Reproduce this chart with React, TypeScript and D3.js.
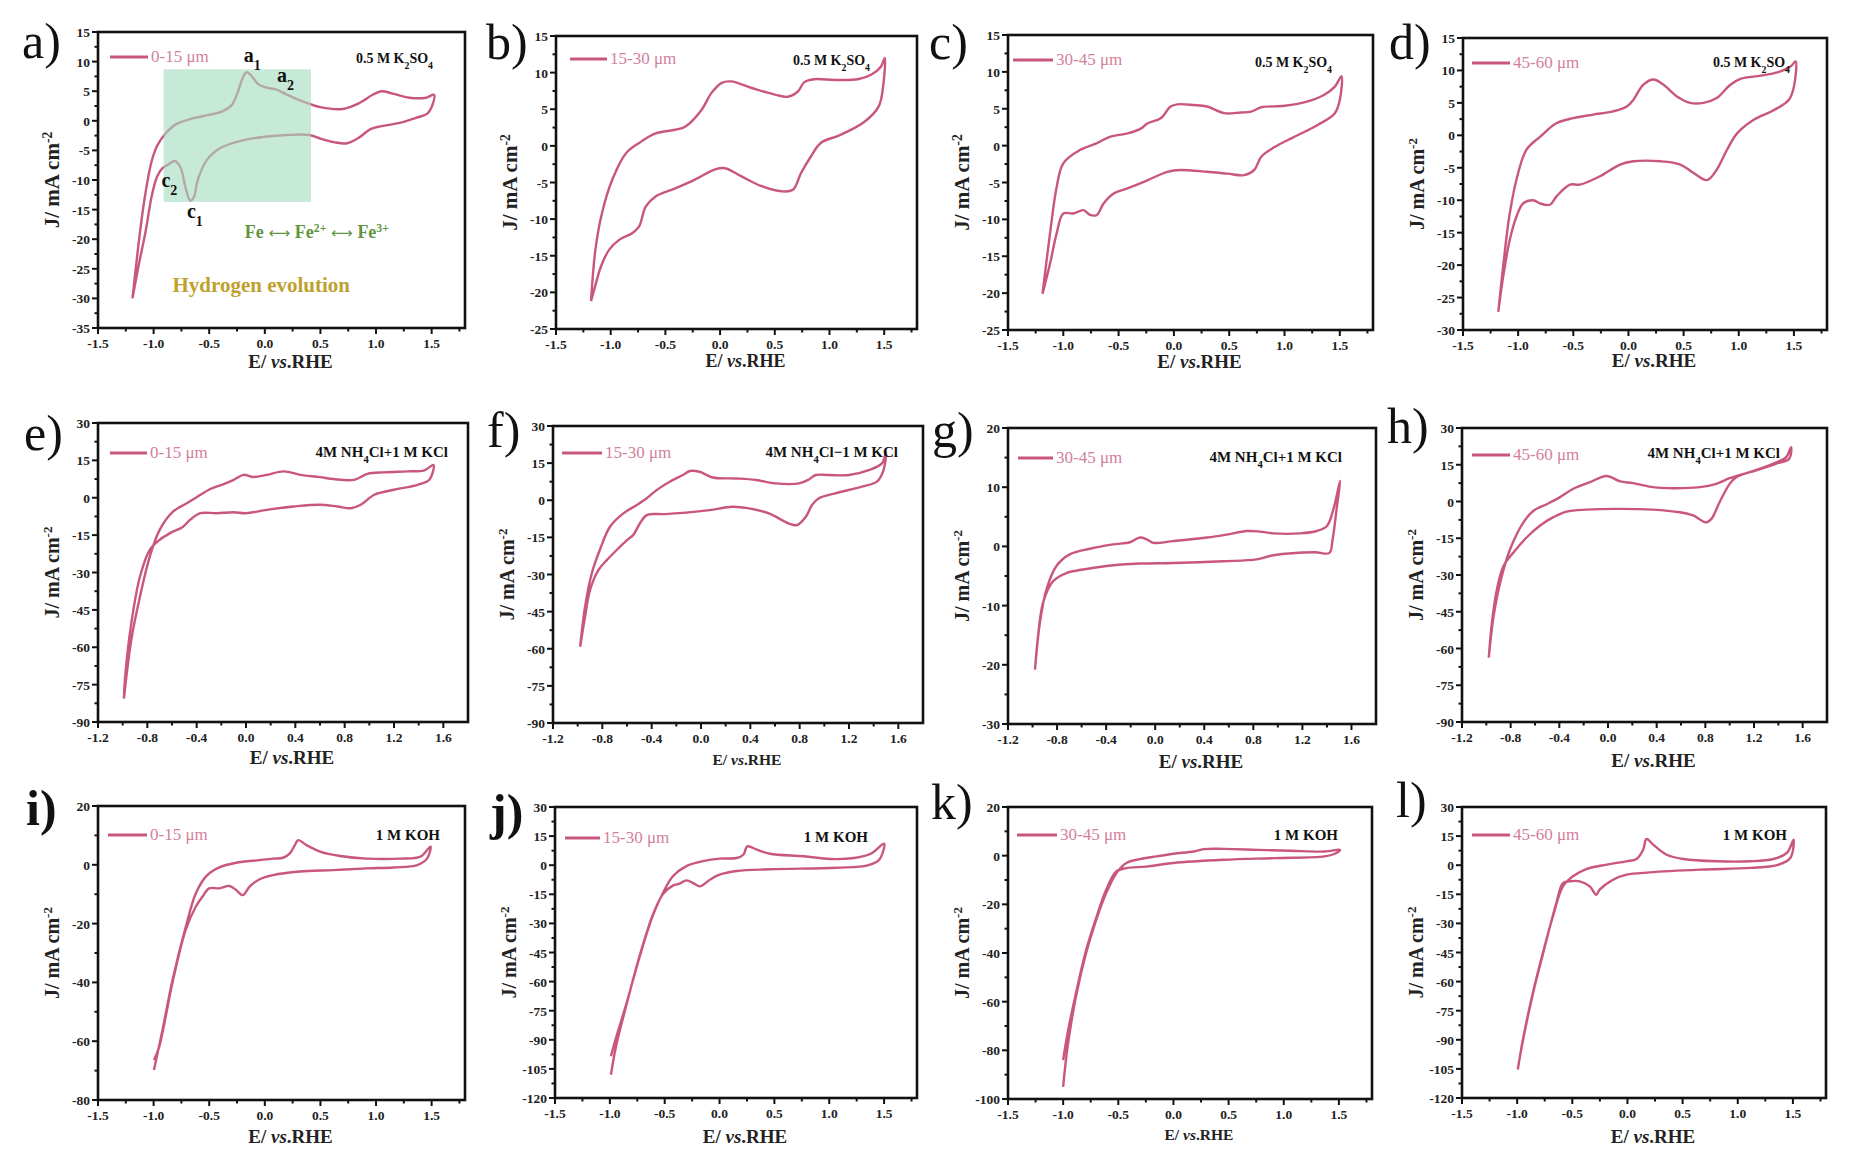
import React from "react";
import * as d3 from "d3";

type Pt = [number, number];

// ---------- tick values ----------
const xTicksWide = [-1.5, -1.0, -0.5, 0.0, 0.5, 1.0, 1.5];
const xTicksNarrow = [-1.2, -0.8, -0.4, 0.0, 0.4, 0.8, 1.2, 1.6];
const yTicksA = [15, 10, 5, 0, -5, -10, -15, -20, -25, -30, -35];
const yTicksBC = [15, 10, 5, 0, -5, -10, -15, -20, -25];
const yTicksD = [15, 10, 5, 0, -5, -10, -15, -20, -25, -30];
const yTicksChloride = [30, 15, 0, -15, -30, -45, -60, -75, -90];
const yTicksG = [20, 10, 0, -10, -20, -30];
const yTicksI = [20, 0, -20, -40, -60, -80];
const yTicksJL = [30, 15, 0, -15, -30, -45, -60, -75, -90, -105, -120];
const yTicksK = [20, 0, -20, -40, -60, -80, -100];

// ---------- labels ----------
const depthLabels = ["0-15 μm", "15-30 μm", "30-45 μm", "45-60 μm"];
const electrolytes = ["0.5 M K2SO4", "4M NH4Cl+1 M KCl", "4M NH4Cl−1 M KCl", "1 M KOH"];
const panelLetters = ["a)", "b)", "c)", "d)", "e)", "f)", "g)", "h)", "i)", "j)", "k)", "l)"];

// ---------- CV loops: forward (anodic) sweep, then reverse (cathodic) sweep ----------
// 0.5 M K2SO4
const aAnodic: Pt[] = [[-1.19,-30],[-1.13,-20],[-1.08,-13],[-1.02,-7],[-0.97,-4.3],[-0.9,-2.3],[-0.8,-0.6],[-0.65,0.4],[-0.5,1.0],[-0.38,1.6],[-0.3,2.6],[-0.25,4.5],[-0.2,7.2],[-0.165,8.2],[-0.12,7.6],[-0.06,6.2],[0.02,5.6],[0.1,5.3],[0.2,4.4],[0.35,3.2],[0.5,2.3],[0.7,2.0],[0.85,3.0],[0.97,4.4],[1.05,5.0],[1.15,4.6],[1.3,3.9],[1.45,3.9],[1.52,4.4]];
const aCathodic: Pt[] = [[1.51,2.8],[1.46,1.2],[1.36,0.5],[1.2,-0.4],[1.05,-0.9],[0.95,-1.4],[0.85,-2.8],[0.74,-3.8],[0.62,-3.6],[0.5,-3.0],[0.4,-2.4],[0.2,-2.4],[0.0,-2.7],[-0.2,-3.3],[-0.4,-4.6],[-0.52,-6.6],[-0.6,-9.8],[-0.64,-13.0],[-0.67,-13.5],[-0.71,-11.5],[-0.76,-7.8],[-0.81,-6.8],[-0.87,-7.4],[-0.92,-8.0],[-0.97,-9.5],[-1.02,-13],[-1.07,-18.5],[-1.13,-24],[-1.19,-30]];
const bAnodic: Pt[] = [[-1.18,-21.2],[-1.14,-14.2],[-1.08,-9.2],[-0.985,-4.6],[-0.86,-1.0],[-0.74,0.4],[-0.59,1.7],[-0.41,2.2],[-0.32,2.6],[-0.17,4.9],[-0.08,7.2],[0.015,8.6],[0.1,8.8],[0.29,7.9],[0.5,7.0],[0.62,6.7],[0.71,7.4],[0.77,8.7],[0.86,9.1],[1.05,9.0],[1.26,9.1],[1.38,9.7],[1.47,10.8],[1.505,12]];
const bCathodic: Pt[] = [[1.49,8.1],[1.45,5.4],[1.32,3.3],[1.1,1.5],[0.92,0.4],[0.83,-1.45],[0.74,-3.7],[0.666,-6.0],[0.56,-6.2],[0.38,-5.5],[0.2,-4.2],[0.045,-3.05],[-0.045,-3.2],[-0.23,-4.6],[-0.41,-5.8],[-0.59,-6.9],[-0.68,-8.3],[-0.74,-11.0],[-0.8,-11.9],[-0.92,-12.8],[-1.015,-14.2],[-1.09,-16.5],[-1.15,-19.6],[-1.18,-21.2]];
const cAnodic: Pt[] = [[-1.188,-20.1],[-1.12,-11.9],[-1.06,-5.6],[-1.0,-2.4],[-0.85,-0.6],[-0.7,0.3],[-0.58,1.2],[-0.42,1.65],[-0.3,2.3],[-0.24,3.0],[-0.12,3.7],[-0.03,5.3],[0.03,5.6],[0.18,5.5],[0.3,5.3],[0.455,4.4],[0.606,4.5],[0.697,4.6],[0.79,5.2],[1.0,5.4],[1.21,6.0],[1.36,6.9],[1.455,8.0],[1.515,9.4]];
const cCathodic: Pt[] = [[1.5,6.2],[1.455,4.4],[1.3,2.8],[1.09,1.2],[0.91,-0.2],[0.79,-1.5],[0.727,-3.3],[0.636,-4.0],[0.485,-3.8],[0.3,-3.55],[0.06,-3.3],[-0.06,-3.55],[-0.24,-4.7],[-0.42,-5.8],[-0.545,-6.5],[-0.636,-7.85],[-0.697,-9.4],[-0.758,-9.4],[-0.818,-8.75],[-0.909,-9.2],[-1.0,-9.2],[-1.06,-11.9],[-1.12,-16],[-1.188,-20.1]];
const dAnodic: Pt[] = [[-1.18,-27.2],[-1.136,-20.2],[-1.076,-12],[-1.0,-5.8],[-0.924,-2.2],[-0.8,-0.2],[-0.65,1.9],[-0.5,2.65],[-0.32,3.2],[-0.14,3.7],[-0.015,4.45],[0.045,5.5],[0.136,7.8],[0.227,8.6],[0.318,7.8],[0.44,6.0],[0.56,5.0],[0.68,5.0],[0.8,5.75],[0.924,7.8],[1.015,8.7],[1.2,9.2],[1.35,9.7],[1.47,10.6],[1.515,11.4]];
const dCathodic: Pt[] = [[1.5,7.5],[1.455,5.5],[1.32,3.9],[1.136,2.4],[0.985,0.3],[0.894,-2.2],[0.8,-5.3],[0.712,-6.9],[0.59,-5.8],[0.47,-4.5],[0.29,-4.0],[0.045,-4.0],[-0.076,-4.5],[-0.258,-6.3],[-0.44,-7.6],[-0.53,-7.6],[-0.652,-9.4],[-0.712,-10.7],[-0.803,-10.5],[-0.864,-10.0],[-0.955,-10.5],[-1.015,-12.5],[-1.076,-16.1],[-1.136,-21.8],[-1.18,-27.2]];

// 4M NH4Cl + 1 M KCl
const eAnodic: Pt[] = [[-0.99,-80.6],[-0.93,-57],[-0.86,-39.7],[-0.78,-23.6],[-0.7,-12.9],[-0.59,-5.5],[-0.48,-2.2],[-0.4,0.2],[-0.29,3.5],[-0.18,5.5],[-0.1,7.2],[-0.02,9.2],[0.06,8.3],[0.17,9.2],[0.306,10.6],[0.44,9.2],[0.6,8.3],[0.71,7.5],[0.876,7.2],[0.985,9.6],[1.12,10.2],[1.31,10.6],[1.446,11.0],[1.52,13.2]];
const eCathodic: Pt[] = [[1.486,7.2],[1.39,5.2],[1.2,3.2],[1.04,1.2],[0.93,-2.8],[0.85,-4.2],[0.74,-3.5],[0.6,-2.8],[0.39,-3.5],[0.17,-4.85],[0.0,-6.2],[-0.1,-5.8],[-0.24,-6.2],[-0.37,-6.2],[-0.454,-8.9],[-0.51,-11.6],[-0.616,-14.2],[-0.7,-16.9],[-0.78,-20.9],[-0.86,-31.7],[-0.93,-50.4],[-0.98,-71.9],[-0.99,-80.6]];
const fAnodic: Pt[] = [[-0.98,-59.2],[-0.94,-43],[-0.886,-29.6],[-0.82,-20],[-0.738,-10.7],[-0.63,-5.3],[-0.52,-1.9],[-0.44,0.8],[-0.36,4.1],[-0.254,7.5],[-0.146,10.2],[-0.09,11.8],[-0.012,11.5],[0.096,9.2],[0.284,8.8],[0.445,8.2],[0.606,6.8],[0.795,6.8],[0.875,8.4],[0.93,10.2],[1.036,10.2],[1.2,10.2],[1.36,12.2],[1.467,14.9],[1.5,19.6]];
const fCathodic: Pt[] = [[1.48,12.2],[1.426,7.5],[1.305,5.5],[1.09,2.8],[0.956,0.8],[0.9,-1.9],[0.85,-6.7],[0.78,-10],[0.714,-9.4],[0.55,-5.3],[0.39,-3.3],[0.257,-2.6],[0.07,-4.0],[-0.12,-5.0],[-0.3,-5.6],[-0.44,-6.0],[-0.496,-9.4],[-0.55,-14.1],[-0.6,-16.1],[-0.684,-20.1],[-0.764,-24.2],[-0.832,-28.2],[-0.9,-36.3],[-0.94,-47.1],[-0.98,-59.2]];
const gAnodic: Pt[] = [[-0.98,-20.8],[-0.94,-12.9],[-0.887,-7.3],[-0.805,-3.3],[-0.697,-1.35],[-0.533,-0.4],[-0.343,0.34],[-0.207,0.7],[-0.125,1.5],[-0.07,1.2],[-0.016,0.6],[0.147,0.9],[0.42,1.5],[0.582,2.0],[0.746,2.6],[0.854,2.5],[0.963,2.2],[1.18,2.2],[1.317,2.6],[1.4,3.45],[1.453,6.3],[1.508,11.1]];
const gCathodic: Pt[] = [[1.48,6.5],[1.445,1.0],[1.42,-1.1],[1.3,-1.0],[0.963,-1.5],[0.827,-2.2],[0.555,-2.5],[0.147,-2.8],[-0.125,-2.9],[-0.397,-3.3],[-0.588,-3.9],[-0.724,-4.5],[-0.833,-5.9],[-0.914,-9.5],[-0.955,-15.2],[-0.98,-20.8]];
const hAnodic: Pt[] = [[-0.98,-63.7],[-0.94,-46.7],[-0.886,-33],[-0.804,-19.4],[-0.695,-8.5],[-0.61,-3.7],[-0.5,-1.0],[-0.394,1.8],[-0.285,5.2],[-0.148,7.9],[-0.012,10.4],[0.1,8.2],[0.207,7.5],[0.37,5.85],[0.535,5.4],[0.754,5.85],[0.89,7.2],[1.0,9.5],[1.163,12.0],[1.355,15.4],[1.464,18.1],[1.505,22.2]];
const hCathodic: Pt[] = [[1.49,17.5],[1.38,15.4],[1.218,12.7],[1.054,9.9],[1.0,7.2],[0.917,-0.3],[0.85,-7.1],[0.808,-8.5],[0.7,-5.7],[0.59,-4.4],[0.37,-3.3],[0.07,-3.0],[-0.175,-3.3],[-0.34,-4.1],[-0.449,-6.4],[-0.558,-9.8],[-0.667,-14.6],[-0.777,-20.8],[-0.858,-26.2],[-0.913,-35.8],[-0.954,-49.4],[-0.98,-63.7]];

// 1 M KOH
const iAnodic: Pt[] = [[-0.997,-69.8],[-0.92,-56.2],[-0.83,-39.2],[-0.71,-21],[-0.62,-9.7],[-0.53,-4.0],[-0.41,-0.9],[-0.258,0.7],[-0.047,1.6],[0.074,2.1],[0.164,2.4],[0.225,3.9],[0.27,6.7],[0.3,8.4],[0.375,6.7],[0.496,4.5],[0.677,3.0],[0.918,2.1],[1.22,2.1],[1.4,2.8],[1.49,6.2]];
const iCathodic: Pt[] = [[1.46,2.2],[1.37,-0.1],[1.16,-0.9],[0.918,-1.2],[0.616,-1.8],[0.315,-2.3],[0.074,-3.5],[-0.047,-4.9],[-0.137,-7.4],[-0.198,-10.3],[-0.258,-8.6],[-0.318,-7.2],[-0.409,-8.0],[-0.5,-8.0],[-0.56,-10.8],[-0.62,-14.2],[-0.71,-22],[-0.83,-40],[-0.95,-61.9],[-0.997,-66.4]];
const jAnodic: Pt[] = [[-0.99,-108],[-0.944,-93.4],[-0.852,-72.7],[-0.73,-47],[-0.608,-25.5],[-0.516,-14.3],[-0.425,-5.7],[-0.302,-0.5],[-0.15,2.1],[0.0,3.4],[0.156,3.7],[0.217,5.4],[0.254,9.7],[0.34,8.0],[0.46,5.9],[0.767,4.6],[1.01,3.2],[1.225,3.7],[1.378,5.9],[1.5,11.1]];
const jCathodic: Pt[] = [[1.455,2.8],[1.35,-0.1],[1.07,-1.3],[0.46,-2.1],[0.156,-3.0],[0.0,-4.9],[-0.088,-7.5],[-0.18,-10.9],[-0.24,-9.2],[-0.302,-7.8],[-0.363,-9.5],[-0.425,-10.5],[-0.516,-14.8],[-0.608,-26],[-0.73,-47.5],[-0.852,-72],[-0.944,-89],[-0.99,-98.5]];
const kAnodic: Pt[] = [[-1.0,-95],[-0.96,-78.6],[-0.884,-58],[-0.793,-40.2],[-0.7,-26.4],[-0.61,-15.4],[-0.518,-7.2],[-0.427,-3.0],[-0.305,-1.4],[-0.152,-0.3],[0.0,0.8],[0.183,1.7],[0.274,2.7],[0.457,2.8],[0.762,2.4],[1.067,2.0],[1.37,1.7],[1.51,2.4]];
const kCathodic: Pt[] = [[1.463,0.8],[1.37,-0.3],[0.915,-1.0],[0.457,-1.7],[0.0,-3.0],[-0.244,-4.5],[-0.427,-5.1],[-0.518,-6.5],[-0.61,-14],[-0.7,-25.5],[-0.793,-39],[-0.884,-56.5],[-0.96,-73],[-1.0,-84]];
const lAnodic: Pt[] = [[-0.994,-105.4],[-0.948,-90],[-0.858,-65.9],[-0.767,-45.3],[-0.676,-26.4],[-0.585,-10.9],[-0.494,-5.7],[-0.373,-2.0],[-0.19,0.3],[-0.009,2.0],[0.082,3.2],[0.142,8.0],[0.173,13.5],[0.233,10.6],[0.355,5.4],[0.506,3.2],[0.81,2.0],[1.112,2.0],[1.324,3.2],[1.445,6.3],[1.506,13.2]];
const lCathodic: Pt[] = [[1.476,3.7],[1.355,0.0],[1.112,-1.4],[0.658,-2.3],[0.203,-3.7],[-0.009,-4.9],[-0.13,-7.5],[-0.252,-12.6],[-0.282,-15.2],[-0.342,-10.9],[-0.433,-8.3],[-0.524,-8.3],[-0.585,-9.2],[-0.645,-19.5],[-0.767,-46],[-0.858,-66.5],[-0.948,-90.5],[-0.994,-105]];

// Fe redox window highlighted in panel a: [E0, E1, J0, J1]
const feWindow = [-0.91, 0.415, -13.7, 8.7];

const LINE = "#c9567f";
const LEGEND_TEXT = "#d27f9c";
const SERIF = "'Liberation Serif', 'Times New Roman', serif";

interface PanelCfg {
  letter: string;
  letterPos: [number, number];
  letterBold?: boolean;
  box: [number, number, number, number];
  xTicks: number[];
  yTicks: number[];
  anodic: Pt[];
  cathodic: Pt[];
  legend: string;
  legendPos: [number, number, number];
  electrolyte: string;
  elecPos: [number, number];
  elecSize: number;
  xTitleDy: number;
  xTitleSize: number;
  yTitleSize: number;
}

const panels: PanelCfg[] = [
  { letter: panelLetters[0], letterPos: [22, 58], box: [98, 32, 465, 328], xTicks: xTicksWide, yTicks: yTicksA, anodic: aAnodic, cathodic: aCathodic, legend: depthLabels[0], legendPos: [12, 50, 25], electrolyte: electrolytes[0], elecPos: [32, 31], elecSize: 14, xTitleDy: 40, xTitleSize: 19, yTitleSize: 21 },
  { letter: panelLetters[1], letterPos: [486, 59], box: [556, 36, 917, 329], xTicks: xTicksWide, yTicks: yTicksBC, anodic: bAnodic, cathodic: bCathodic, legend: depthLabels[1], legendPos: [14, 51, 23], electrolyte: electrolytes[0], elecPos: [47, 29], elecSize: 14, xTitleDy: 38, xTitleSize: 18, yTitleSize: 21 },
  { letter: panelLetters[2], letterPos: [929, 59], box: [1008, 35, 1373, 330], xTicks: xTicksWide, yTicks: yTicksBC, anodic: cAnodic, cathodic: cCathodic, legend: depthLabels[2], legendPos: [5, 45, 25], electrolyte: electrolytes[0], elecPos: [41, 32], elecSize: 14, xTitleDy: 38, xTitleSize: 19, yTitleSize: 21 },
  { letter: panelLetters[3], letterPos: [1389, 59], box: [1463, 38, 1827, 330], xTicks: xTicksWide, yTicks: yTicksD, anodic: dAnodic, cathodic: dCathodic, legend: depthLabels[3], legendPos: [9, 47, 25], electrolyte: electrolytes[0], elecPos: [37, 29], elecSize: 14, xTitleDy: 37, xTitleSize: 19, yTitleSize: 20 },
  { letter: panelLetters[4], letterPos: [24, 450], box: [98, 423, 468, 722], xTicks: xTicksNarrow, yTicks: yTicksChloride, anodic: eAnodic, cathodic: eCathodic, legend: depthLabels[0], legendPos: [12, 49, 30], electrolyte: electrolytes[1], elecPos: [20, 34], elecSize: 15, xTitleDy: 42, xTitleSize: 19, yTitleSize: 20 },
  { letter: panelLetters[5], letterPos: [487, 447], box: [553, 426, 923, 723], xTicks: xTicksNarrow, yTicks: yTicksChloride, anodic: fAnodic, cathodic: fCathodic, legend: depthLabels[1], legendPos: [9, 49, 27], electrolyte: electrolytes[2], elecPos: [25, 31], elecSize: 15, xTitleDy: 42, xTitleSize: 15.5, yTitleSize: 20 },
  { letter: panelLetters[6], letterPos: [932, 447], box: [1008, 428, 1376, 724], xTicks: xTicksNarrow, yTicks: yTicksG, anodic: gAnodic, cathodic: gCathodic, legend: depthLabels[2], legendPos: [10, 45, 30], electrolyte: electrolytes[1], elecPos: [34, 34], elecSize: 15, xTitleDy: 44, xTitleSize: 19, yTitleSize: 20 },
  { letter: panelLetters[7], letterPos: [1387, 443], box: [1462, 428, 1827, 722], xTicks: xTicksNarrow, yTicks: yTicksChloride, anodic: hAnodic, cathodic: hCathodic, legend: depthLabels[3], legendPos: [10, 48, 27], electrolyte: electrolytes[1], elecPos: [47, 30], elecSize: 15, xTitleDy: 45, xTitleSize: 19, yTitleSize: 20 },
  { letter: panelLetters[8], letterPos: [26, 825], letterBold: true, box: [98, 806, 465, 1100], xTicks: xTicksWide, yTicks: yTicksI, anodic: iAnodic, cathodic: iCathodic, legend: depthLabels[0], legendPos: [10, 49, 29], electrolyte: electrolytes[3], elecPos: [25, 34], elecSize: 15, xTitleDy: 43, xTitleSize: 19, yTitleSize: 20 },
  { letter: panelLetters[9], letterPos: [490, 829], letterBold: true, box: [555, 807, 917, 1098], xTicks: xTicksWide, yTicks: yTicksJL, anodic: jAnodic, cathodic: jCathodic, legend: depthLabels[1], legendPos: [10, 45, 31], electrolyte: electrolytes[3], elecPos: [49, 35], elecSize: 15, xTitleDy: 45, xTitleSize: 19, yTitleSize: 20 },
  { letter: panelLetters[10], letterPos: [931, 819], box: [1008, 807, 1372, 1099], xTicks: xTicksWide, yTicks: yTicksK, anodic: kAnodic, cathodic: kCathodic, legend: depthLabels[2], legendPos: [9, 49, 28], electrolyte: electrolytes[3], elecPos: [34, 33], elecSize: 15, xTitleDy: 41, xTitleSize: 15.5, yTitleSize: 20 },
  { letter: panelLetters[11], letterPos: [1396, 817], box: [1462, 807, 1826, 1098], xTicks: xTicksWide, yTicks: yTicksJL, anodic: lAnodic, cathodic: lCathodic, legend: depthLabels[3], legendPos: [10, 48, 28], electrolyte: electrolytes[3], elecPos: [39, 33], elecSize: 15, xTitleDy: 45, xTitleSize: 19, yTitleSize: 20 },
];

// Split a formula such as "K2SO4" so that digits after a capital letter become subscripts
function formula(text: string) {
  const parts: { t: string; sub: boolean }[] = [];
  for (let i = 0; i < text.length; i++) {
    const ch = text[i];
    const sub = /[0-9]/.test(ch) && i > 0 && /[A-Z]/.test(text[i - 1]);
    const last = parts[parts.length - 1];
    if (last && last.sub === sub) last.t += ch;
    else parts.push({ t: ch, sub });
  }
  return parts.map((p, i) =>
    p.sub ? (
      <tspan key={i} fontSize="70%" baselineShift="sub">{p.t}</tspan>
    ) : (
      <tspan key={i}>{p.t}</tspan>
    )
  );
}

function minorBetween(ticks: number[], lo: number, hi: number): number[] {
  const s = [...ticks].sort((a, b) => a - b);
  const step = s[1] - s[0];
  const out: number[] = [];
  for (let v = s[0] + step / 2; v < hi - 1e-6; v += step) {
    if (v > lo + 1e-6 && !s.some((t) => Math.abs(t - v) < 1e-6)) out.push(v);
  }
  return out;
}

function Panel({ cfg, showFe }: { cfg: PanelCfg; showFe: boolean }) {
  const [L, T, R, B] = cfg.box;
  const xDomain: [number, number] = [cfg.xTicks[0], 1.8];
  const yDomain: [number, number] = [d3.min(cfg.yTicks)!, d3.max(cfg.yTicks)!];
  const x = d3.scaleLinear().domain(xDomain).range([L, R]);
  const y = d3.scaleLinear().domain(yDomain).range([B, T]);
  const line = d3
    .line<Pt>()
    .x((d) => x(d[0]))
    .y((d) => y(d[1]))
    .curve(d3.curveCatmullRom.alpha(0.5));
  const loop = [...cfg.anodic, ...cfg.cathodic];
  const xMinor = minorBetween(cfg.xTicks, xDomain[0], xDomain[1]);
  const yMinor = minorBetween(cfg.yTicks, yDomain[0], yDomain[1]);
  const cx = (L + R) / 2 + 9;
  const cy = (T + B) / 2;
  const [lx0, lx1, ly] = cfg.legendPos;

  return (
    <g>
      <text x={cfg.letterPos[0]} y={cfg.letterPos[1]} fontFamily={SERIF} fontSize={50} fontWeight={cfg.letterBold ? "bold" : "normal"} fill="#111">
        {cfg.letter}
      </text>

      <path d={line(loop) || ""} fill="none" stroke={LINE} strokeWidth={2.4} strokeLinejoin="round" />

      {showFe && (
        <g fontFamily={SERIF} fontWeight="bold">
          <rect
            x={x(feWindow[0])}
            y={y(feWindow[3])}
            width={x(feWindow[1]) - x(feWindow[0])}
            height={y(feWindow[2]) - y(feWindow[3])}
            fill="rgb(165,220,190)"
            opacity={0.62}
          />
          <text x={x(-0.19)} y={y(9.9)} fontSize={20} fill="#111">
            a<tspan fontSize="70%" baselineShift="sub">1</tspan>
          </text>
          <text x={x(0.11)} y={y(6.6)} fontSize={20} fill="#111">
            a<tspan fontSize="70%" baselineShift="sub">2</tspan>
          </text>
          <text x={x(-0.93)} y={y(-11.2)} fontSize={20} fill="#111">
            c<tspan fontSize="70%" baselineShift="sub">2</tspan>
          </text>
          <text x={x(-0.7)} y={y(-16.4)} fontSize={20} fill="#111">
            c<tspan fontSize="70%" baselineShift="sub">1</tspan>
          </text>
          <text x={x(-0.18)} y={y(-19.8)} fontSize={18} fill="#5f9440">
            Fe<tspan fontFamily="'DejaVu Sans'" fontWeight="normal" fontSize={15}> ⟷ </tspan>Fe
            <tspan fontSize="65%" baselineShift="super">2+</tspan>
            <tspan fontFamily="'DejaVu Sans'" fontWeight="normal" fontSize={15}> ⟷ </tspan>Fe
            <tspan fontSize="65%" baselineShift="super">3+</tspan>
          </text>
          <text x={x(-0.83)} y={y(-28.9)} fontSize={21} fill="#bfa12e">
            Hydrogen evolution
          </text>
        </g>
      )}

      {/* legend */}
      <line x1={L + lx0} x2={L + lx1} y1={T + ly} y2={T + ly} stroke={LINE} strokeWidth={3} />
      <text x={L + lx1 + 3} y={T + ly + 5} fontFamily={SERIF} fontSize={17} fill={LEGEND_TEXT}>
        {cfg.legend}
      </text>
      <text
        x={R - cfg.elecPos[0]}
        y={T + cfg.elecPos[1]}
        textAnchor="end"
        fontFamily={SERIF}
        fontWeight="bold"
        fontSize={cfg.elecSize}
        fill="#111"
      >
        {formula(cfg.electrolyte)}
      </text>

      {/* frame */}
      <rect x={L} y={T} width={R - L} height={B - T} fill="none" stroke="#111" strokeWidth={2.6} />

      {/* ticks */}
      <g stroke="#111" strokeWidth={2}>
        {cfg.xTicks.map((v) => (
          <line key={"xt" + v} x1={x(v)} x2={x(v)} y1={B} y2={B + 6} />
        ))}
        {xMinor.map((v) => (
          <line key={"xm" + v} x1={x(v)} x2={x(v)} y1={B} y2={B + 3.5} />
        ))}
        {cfg.yTicks.map((v) => (
          <line key={"yt" + v} x1={L - 6} x2={L} y1={y(v)} y2={y(v)} />
        ))}
        {yMinor.map((v) => (
          <line key={"ym" + v} x1={L - 3.5} x2={L} y1={y(v)} y2={y(v)} />
        ))}
      </g>
      <g fontFamily={SERIF} fontWeight="bold" fontSize={13.5} fill="#222">
        {cfg.xTicks.map((v) => (
          <text key={"xl" + v} x={x(v)} y={B + 20} textAnchor="middle">
            {v.toFixed(1)}
          </text>
        ))}
        {cfg.yTicks.map((v) => (
          <text key={"yl" + v} x={L - 8} y={y(v) + 5} textAnchor="end">
            {v}
          </text>
        ))}
      </g>

      {/* axis titles */}
      <text x={cx} y={B + cfg.xTitleDy} textAnchor="middle" fontFamily={SERIF} fontWeight="bold" fontSize={cfg.xTitleSize} fill="#222">
        E/ <tspan fontStyle="italic">vs</tspan>.RHE
      </text>
      <text
        transform={`translate(${L - 39},${cy}) rotate(-90)`}
        textAnchor="middle"
        fontFamily={SERIF}
        fontWeight="bold"
        fontSize={cfg.yTitleSize}
        fill="#222"
      >
        J/ mA cm<tspan fontSize="65%" baselineShift="super">-2</tspan>
      </text>
    </g>
  );
}

export default function App() {
  return (
    <svg
      width={1856}
      height={1172}
      viewBox="0 0 1856 1172"
      style={{ position: "absolute", left: 0, top: 0, background: "#fff" }}
    >
      <rect x={0} y={0} width={1856} height={1172} fill="#fff" />
      {panels.map((p, i) => (
        <Panel key={p.letter} cfg={p} showFe={i === 0} />
      ))}
    </svg>
  );
}
